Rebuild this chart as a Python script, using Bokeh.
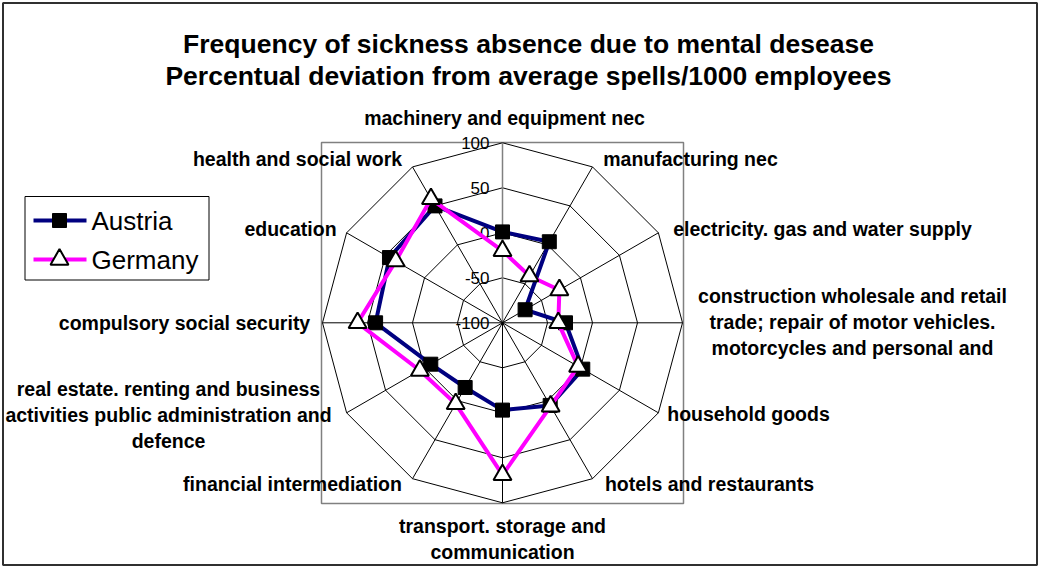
import numpy as np
from bokeh.plotting import figure
from bokeh.models import Range1d
from bokeh.core.properties import value
from bokeh.embed import file_html
from bokeh.resources import INLINE

# ---------------- data ----------------
categories = [
    "machinery and equipment nec",
    "manufacturing nec",
    "electricity. gas and water supply",
    "construction wholesale and retail\ntrade; repair of motor vehicles.\nmotorcycles and personal and",
    "household goods",
    "hotels and restaurants",
    "transport. storage and\ncommunication",
    "financial intermediation",
    "real estate. renting and business\nactivities public administration and\ndefence",
    "compulsory social security",
    "education",
    "health and social work",
]
austria = [1, 4, -71, -30, 3, 6, -3, -17, -8, 41, 45, 50]
germany = [-20, -40, -27, -38, -3, 7, 69, 4, 6, 61, 37, 59]
tick_values = [-100, -50, 0, 50, 100]
tick_labels = ["-100", "-50", "0", "50", "100"]
series_names = ["Austria", "Germany"]

# ---------------- geometry ----------------
W, H = 1039, 567
def X(rx):  # reference pixel -> data x
    return rx
def Y(ry):  # reference pixel -> data y (up)
    return H - ry

CX, CY = X(502), Y(322.3)
SCALE = 0.9  # px per unit
VMIN = -100
n = len(categories)
ang = np.array([np.pi / 2 - 2 * np.pi * i / n for i in range(n)])

def polar(vals):
    r = (np.asarray(vals, dtype=float) - VMIN) * SCALE
    return CX + r * np.cos(ang), CY + r * np.sin(ang)

FONT = value("Liberation Sans")

p = figure(width=W, height=H, x_range=Range1d(0, W), y_range=Range1d(0, H),
           output_backend="svg", toolbar_location=None, min_border=0)
p.xaxis.visible = False
p.yaxis.visible = False
p.xgrid.visible = False
p.ygrid.visible = False
p.outline_line_color = None
p.background_fill_color = "white"

# outer chart border
p.quad(left=X(2.5), right=X(1036.5), bottom=Y(564.5), top=Y(2.5),
       fill_color=None, line_color="#303030", line_width=2)

# plot area frame
p.quad(left=X(321), right=X(683), bottom=Y(503), top=Y(142),
       fill_color=None, line_color="#808080", line_width=1.5)

# rings
for tv in tick_values[1:]:
    xs, ys = polar([tv] * n)
    p.patch(list(xs) + [xs[0]], list(ys) + [ys[0]], fill_color=None,
            line_color="black", line_width=1)
# spokes
xo, yo = polar([tick_values[-1]] * n)
for i in range(n):
    col = "#808080" if i == 0 else "black"
    lw = 1.5 if i == 0 else 1
    p.line([CX, xo[i]], [CY, yo[i]], line_color=col, line_width=lw)

# tick labels
ty = [CY + (tv - VMIN) * SCALE for tv in tick_values]
p.text(x=[X(489)] * len(tick_values), y=ty, text=tick_labels,
       text_font=FONT, text_font_size="17px", text_align="right",
       text_baseline="middle", text_color="black")

# series
ax, ay = polar(austria)
gx, gy = polar(germany)
p.line(list(ax) + [ax[0]], list(ay) + [ay[0]], line_color="#000080", line_width=4)
p.scatter(ax, ay, marker="square", size=14, fill_color="black", line_color="black")
p.line(list(gx) + [gx[0]], list(gy) + [gy[0]], line_color="#FF00FF", line_width=4)
p.scatter(gx, gy, marker="triangle", size=18, fill_color="white", line_color="black",
          line_width=2)

# category labels (centres in reference pixels)
label_pos = [(504, 117), (690, 158), (822, 228), (852, 321), (748, 413),
             (709, 483), (502, 538), (292, 483), (168, 414), (184, 322),
             (290, 228), (297, 158)]
for cat, (lx, ly) in zip(categories, label_pos):
    lines = cat.split("\n")
    k = len(lines)
    for j, t in enumerate(lines):
        yy = ly + (j - (k - 1) / 2) * 26
        p.text(x=[X(lx)], y=[Y(yy)], text=[t], text_font=FONT,
               text_font_style="bold", text_font_size="19.5px",
               text_align="center", text_baseline="middle", text_color="black")

# title
p.text(x=[X(528), X(528)], y=[Y(43), Y(75)],
       text=["Frequency of sickness absence due to mental desease",
             "Percentual deviation from average spells/1000 employees"],
       text_font=FONT, text_font_style="bold", text_font_size="26.5px",
       text_align="center", text_baseline="middle", text_color="black")

# legend
p.quad(left=X(24.5), right=X(208.5), bottom=Y(279.5), top=Y(196),
       fill_color="white", line_color="black", line_width=1)
p.line([X(33), X(86)], [Y(220), Y(220)], line_color="#000080", line_width=4)
p.scatter([X(59)], [Y(220)], marker="square", size=14, fill_color="black", line_color="black")
p.line([X(33), X(86)], [Y(259), Y(259)], line_color="#FF00FF", line_width=4)
p.scatter([X(59)], [Y(259)], marker="triangle", size=18, fill_color="white",
          line_color="black", line_width=2)
p.text(x=[X(91), X(91)], y=[Y(220), Y(259)], text=series_names, text_font=FONT,
       text_font_size="26px", text_align="left", text_baseline="middle",
       text_color="black")

open("out.html", "w").write(file_html(p, INLINE))
